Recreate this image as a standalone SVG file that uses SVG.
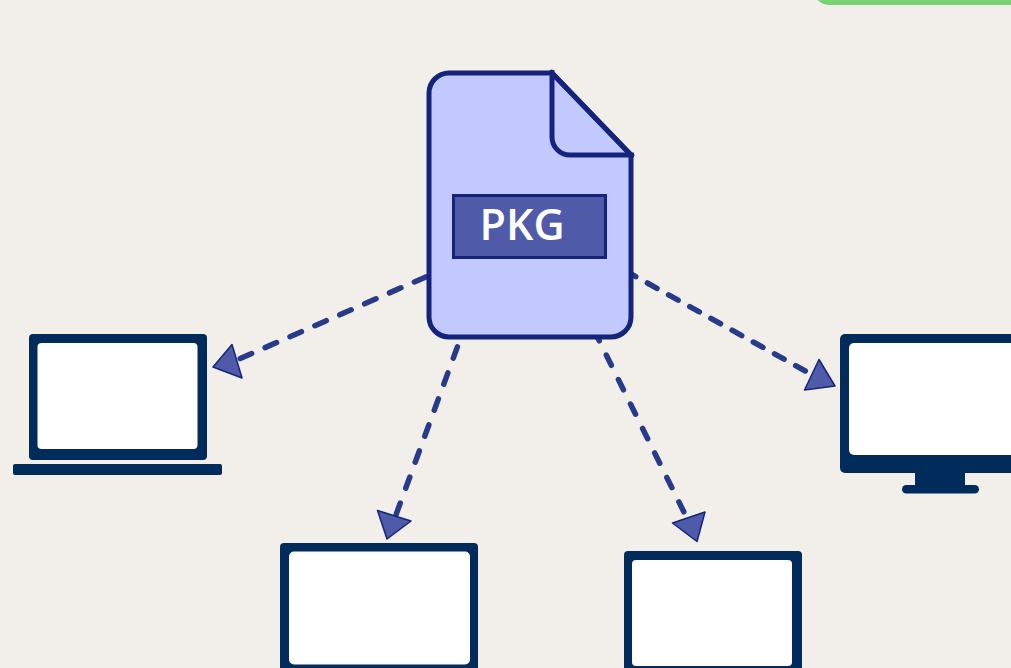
<svg xmlns="http://www.w3.org/2000/svg" width="1011" height="668" viewBox="0 0 1011 668">
<style>
.navy{fill:#002b5b}
.screen{fill:#fff}
.link{fill:none;stroke:#273b8a;stroke-width:5.5;stroke-linecap:round}
.head{fill:#4f5ba8;stroke:#14247a;stroke-width:1.500;stroke-linejoin:round}
.doc{fill:#c2c9ff;stroke:#14247a;stroke-width:5}
.fold{fill:none;stroke:#14247a;stroke-width:5}
.tag{fill:#4f5ba8;stroke:#14247a;stroke-width:3}
.tagtext{fill:#fff;font-family:"Open Sans","Noto Sans",sans-serif;font-weight:600;font-size:43px}
</style>
<rect width="1011" height="668" fill="#f2efea"/>
<rect id="green-shape" x="812" y="-31" width="240" height="36" rx="18" fill="#78d272"/>
<g id="connectors">
<path class="link" stroke-dasharray="12.500 14.680" d="M425.800 276.900L240.200 358.600"/>
<path class="link" stroke-dasharray="11 13.250" d="M626.200 271.200L805.300 371"/>
<path class="link" stroke-dasharray="12 15.700" d="M457.400 346.900L396.200 514.200"/>
<path class="link" stroke-dasharray="11.400 15.900" d="M594.200 330.600L683.800 511.800"/>
<polygon class="head" points="213,367 232,344.500 242,378"/>
<polygon class="head" points="819,359.500 835,386 804.500,390"/>
<polygon class="head" points="377.500,510.500 411,521 387,539"/>
<polygon class="head" points="705,512 697,541.500 672.500,523"/>
</g>
<g id="package">
<path class="doc" d="M552 73H449A20 20 0 0 0 429 93V317A20 20 0 0 0 449 337H611A20 20 0 0 0 631 317V155Z"/>
<path class="fold" d="M552 70V137A18 18 0 0 0 570 155H634M550 71L633 157"/>
<rect class="tag" x="453.500" y="195.500" width="152" height="62"/>
<text class="tagtext" x="479.500" y="240">PKG</text>
</g>
<g id="laptop">
<rect class="navy" x="29" y="334" width="178" height="126" rx="4"/>
<rect class="screen" x="37.500" y="343" width="160" height="106" rx="4"/>
<rect class="navy" x="13" y="464" width="209" height="11" rx="2"/>
</g>
<g id="monitor">
<rect class="navy" x="840" y="334" width="200" height="139" rx="5"/>
<rect class="screen" x="849" y="343" width="180" height="112" rx="5"/>
<rect class="navy" x="915" y="470" width="50" height="18"/>
<rect class="navy" x="902" y="485" width="77" height="8.500" rx="4.250"/>
</g>
<g id="screen-left">
<rect class="navy" x="280" y="543" width="198" height="140" rx="4"/>
<rect class="screen" x="289" y="551.500" width="181" height="113" rx="5"/>
</g>
<g id="screen-right">
<rect class="navy" x="624" y="551" width="178" height="130" rx="4"/>
<rect class="screen" x="632" y="560" width="160" height="106" rx="4"/>
</g>
</svg>
